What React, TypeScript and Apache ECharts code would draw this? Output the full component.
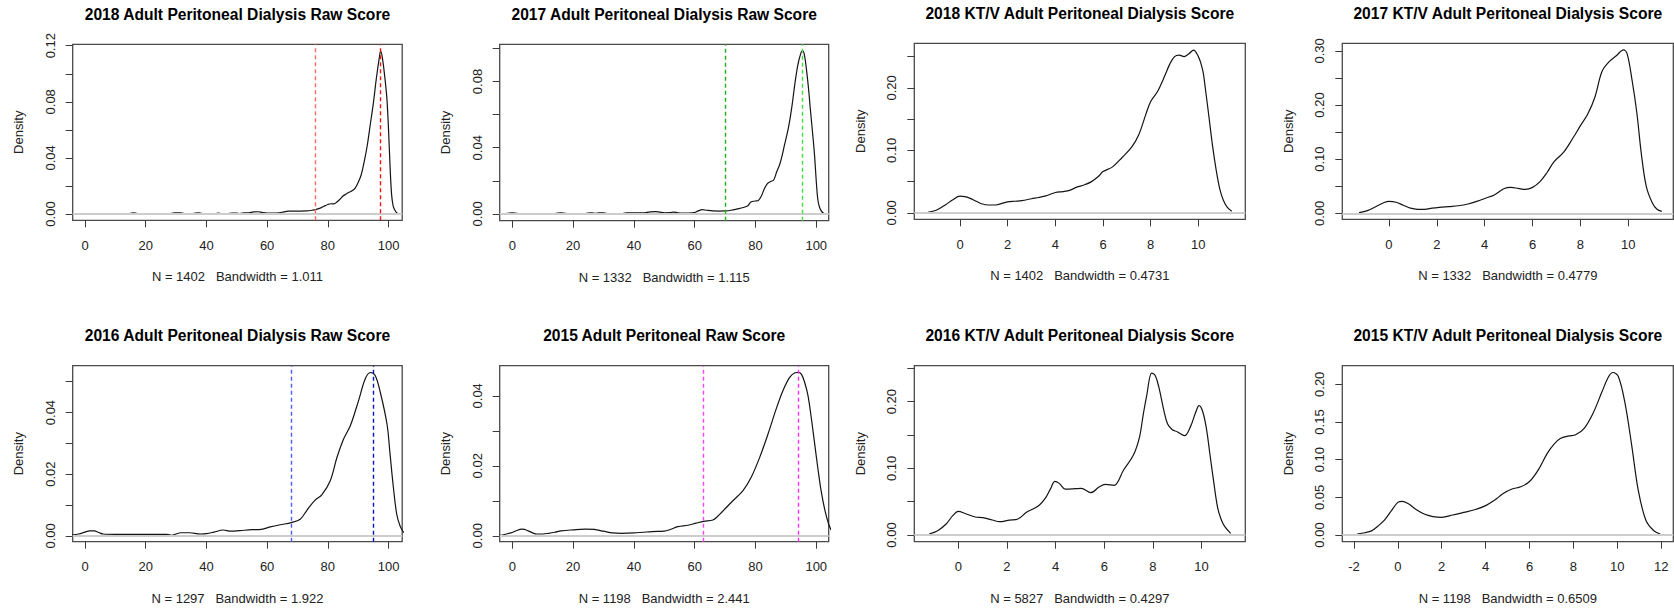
import { useEffect, useRef } from 'react';
import * as echarts from 'echarts';

const FONT = '"Liberation Sans", Arial, Helvetica, sans-serif';

const titles = [
  '2018 Adult Peritoneal Dialysis Raw Score',
  '2017 Adult Peritoneal Dialysis Raw Score',
  '2018 KT/V Adult Peritoneal Dialysis Score',
  '2017 KT/V Adult Peritoneal Dialysis Score',
  '2016 Adult Peritoneal Dialysis Raw Score',
  '2015 Adult Peritoneal Raw Score',
  '2016 KT/V Adult Peritoneal Dialysis Score',
  '2015 KT/V Adult Peritoneal Dialysis Score',
];

const subtitles = [
  'N = 1402   Bandwidth = 1.011',
  'N = 1332   Bandwidth = 1.115',
  'N = 1402   Bandwidth = 0.4731',
  'N = 1332   Bandwidth = 0.4779',
  'N = 1297   Bandwidth = 1.922',
  'N = 1198   Bandwidth = 2.441',
  'N = 5827   Bandwidth = 0.4297',
  'N = 1198   Bandwidth = 0.6509',
];

// ---- density curves (x, density) ----
const raw2018X = [12, 14, 15, 16, 17, 18, 20, 26, 28, 29.5, 31.5, 33, 34.5, 36, 37.5, 39, 42, 44, 45.5, 47, 48.5, 50, 51, 52.5, 54, 55.5, 57, 58.5, 60, 62, 64, 65.5, 67, 69, 71, 73, 75, 76, 77, 78, 79, 80, 81, 82, 83, 84, 85, 86, 87, 88, 89, 90, 91, 92, 93, 94, 95, 96, 97, 97.4, 98, 99, 99.5, 100, 100.5, 101, 101.5, 102, 102.5, 103, 103.5];
const raw2018Y = [0, 0, 0.0004, 0.0009, 0.0004, 0, 0, 0, 0.0003, 0.0008, 0.0008, 0.0002, 0, 0.0005, 0.0008, 0.0002, 0, 0.0006, 0, 0.0002, 0.0007, 0.0006, 0.0003, 0.0008, 0.0009, 0.0015, 0.0016, 0.001, 0.0007, 0.0007, 0.0009, 0.0015, 0.002, 0.0021, 0.0021, 0.0022, 0.0027, 0.0031, 0.0038, 0.0047, 0.0058, 0.0068, 0.0073, 0.0072, 0.0086, 0.0105, 0.0128, 0.0142, 0.0155, 0.0165, 0.0185, 0.0225, 0.028, 0.0375, 0.049, 0.064, 0.079, 0.097, 0.112, 0.1162, 0.111, 0.093, 0.081, 0.06, 0.034, 0.014, 0.006, 0.003, 0.0014, 0.0004, 0];

const raw2017X = [-3, -1.5, 0, 1.5, 3, 13, 14.5, 16, 17.5, 19, 23, 24.5, 26, 27.5, 28.5, 30, 31.5, 34, 36, 37.5, 40, 42, 43.5, 45, 47, 48.5, 50, 52, 53, 54.5, 56, 58, 60, 61, 62.5, 64, 66, 68, 70, 72, 74, 76, 77.5, 78.5, 80, 81, 82, 83, 84, 85, 86, 87, 88, 89, 89.6, 90, 91, 92, 93, 94, 95, 95.5, 96, 96.7, 97.5, 98.1, 99, 99.5, 100, 100.5, 101, 101.6, 102.2, 102.8];
const raw2017Y = [0, 0.0003, 0.0006, 0.0003, 0, 0, 0.0004, 0.0007, 0.0003, 0, 0, 0.0004, 0.0007, 0.0004, 0.0006, 0.0006, 0.0002, 0, 0.0002, 0.0006, 0.0006, 0.0006, 0.0007, 0.0011, 0.0014, 0.0011, 0.0007, 0.0008, 0.0011, 0.0007, 0.0005, 0.0005, 0.0008, 0.0017, 0.0026, 0.0022, 0.0018, 0.0017, 0.0018, 0.0022, 0.003, 0.0039, 0.005, 0.0072, 0.0078, 0.0082, 0.011, 0.0155, 0.0185, 0.0196, 0.0205, 0.0255, 0.03, 0.037, 0.042, 0.045, 0.0535, 0.065, 0.079, 0.0905, 0.0975, 0.0985, 0.097, 0.0886, 0.075, 0.0625, 0.045, 0.034, 0.02, 0.009, 0.0045, 0.002, 0.0007, 0];

const ktv2018X = [-1.35, -1.0, -0.6, -0.3, 0, 0.2, 0.4, 0.7, 0.9, 1.2, 1.5, 1.8, 2.0, 2.3, 2.6, 3.0, 3.3, 3.6, 4.0, 4.3, 4.6, 4.9, 5.2, 5.5, 5.8, 6.0, 6.4, 6.8, 7.2, 7.5, 7.8, 8.0, 8.3, 8.6, 8.8, 9.0, 9.2, 9.4, 9.6, 9.8, 10.0, 10.1, 10.2, 10.3, 10.45, 10.6, 10.75, 10.9, 11.05, 11.2, 11.4];
const ktv2018Y = [0.0008, 0.004, 0.013, 0.021, 0.0266, 0.026, 0.0235, 0.018, 0.0145, 0.0125, 0.0125, 0.0155, 0.0175, 0.0185, 0.0195, 0.0225, 0.0245, 0.027, 0.0325, 0.034, 0.036, 0.041, 0.0445, 0.0495, 0.058, 0.066, 0.0735, 0.0885, 0.105, 0.125, 0.158, 0.178, 0.195, 0.22, 0.238, 0.25, 0.2525, 0.25, 0.2545, 0.2605, 0.25, 0.24, 0.225, 0.197, 0.152, 0.106, 0.068, 0.038, 0.02, 0.0095, 0.0025];

const ktv2017X = [-1.25, -0.9, -0.5, -0.2, 0, 0.3, 0.6, 0.9, 1.2, 1.5, 1.8, 2.1, 2.5, 2.9, 3.3, 3.7, 4.0, 4.4, 4.8, 5.1, 5.4, 5.7, 6.0, 6.3, 6.6, 6.9, 7.3, 7.7, 8.0, 8.3, 8.6, 8.9, 9.2, 9.5, 9.8, 9.95, 10.15, 10.35, 10.55, 10.75, 11.0, 11.2, 11.4];
const ktv2017Y = [0.0012, 0.005, 0.0136, 0.02, 0.0222, 0.0205, 0.015, 0.0095, 0.0075, 0.0075, 0.0095, 0.011, 0.0125, 0.014, 0.0172, 0.0225, 0.0275, 0.034, 0.0455, 0.0478, 0.046, 0.0443, 0.048, 0.058, 0.075, 0.0955, 0.113, 0.14, 0.162, 0.183, 0.214, 0.262, 0.28, 0.291, 0.302, 0.295, 0.248, 0.188, 0.108, 0.05, 0.0197, 0.0075, 0.0035];

const raw2016X = [-5, -4, -2, 0, 1.5, 3, 4.5, 6, 10, 20, 27, 28.6, 30, 31.5, 34.5, 38, 40, 42.5, 45.5, 48, 51, 55, 58, 60, 61, 64.3, 68, 70.9, 73.1, 75.8, 78, 80.8, 83, 85.2, 87.4, 90.1, 92.3, 94, 95.6, 97.3, 99.5, 100.5, 101.6, 102.7, 103.8, 105];
const raw2016Y = [0.0002, 0.0003, 0.0006, 0.0012, 0.0016, 0.0016, 0.0011, 0.0006, 0.0005, 0.0005, 0.0005, 0.0002, 0.0006, 0.001, 0.001, 0.0006, 0.0007, 0.0012, 0.0019, 0.0015, 0.0017, 0.002, 0.0021, 0.0026, 0.0029, 0.0036, 0.0043, 0.0054, 0.0083, 0.0116, 0.0133, 0.0179, 0.0254, 0.0314, 0.0357, 0.0438, 0.0509, 0.053, 0.052, 0.0465, 0.0362, 0.0265, 0.0157, 0.007, 0.0032, 0.001];

const raw2015X = [-5, -4.2, -2, 0.2, 1.5, 3, 4, 5.2, 6.5, 8, 10, 12, 14, 16, 20, 24, 27, 30, 33, 36, 40, 43, 46, 50, 52, 54.5, 57.8, 60.5, 63, 66, 67.5, 69, 72, 75.9, 78.6, 81.4, 84.1, 86.8, 89, 91.2, 93, 94, 95.1, 96.2, 97.3, 98.4, 99.5, 100.5, 101.6, 102.8, 104.1, 105];
const raw2015Y = [0.0001, 0.0001, 0.0005, 0.001, 0.0015, 0.0019, 0.0018, 0.0014, 0.0009, 0.0005, 0.0005, 0.0007, 0.001, 0.0014, 0.0017, 0.0019, 0.0018, 0.0013, 0.0008, 0.0007, 0.0008, 0.001, 0.0012, 0.0013, 0.0018, 0.0026, 0.003, 0.0036, 0.0041, 0.0045, 0.0055, 0.0068, 0.0095, 0.0129, 0.0167, 0.0224, 0.029, 0.0362, 0.0414, 0.0452, 0.0466, 0.0467, 0.0462, 0.0438, 0.04, 0.0335, 0.0262, 0.0195, 0.0129, 0.0075, 0.0033, 0.0015];

const ktv2016X = [-1.2, -0.85, -0.5, -0.23, 0, 0.3, 0.7, 1.0, 1.4, 1.7, 2.1, 2.45, 2.8, 3.3, 3.6, 3.8, 3.97, 4.15, 4.4, 4.8, 5.05, 5.45, 5.8, 6.05, 6.4, 6.8, 7.2, 7.45, 7.6, 7.75, 7.95, 8.1, 8.25, 8.45, 8.6, 8.8, 9.0, 9.3, 9.55, 9.75, 9.9, 10.05, 10.2, 10.35, 10.5, 10.66, 10.8, 10.95, 11.2];
const ktv2016Y = [0.0015, 0.0065, 0.0165, 0.029, 0.0355, 0.032, 0.027, 0.026, 0.0225, 0.02, 0.0225, 0.024, 0.034, 0.044, 0.0565, 0.07, 0.0805, 0.0775, 0.069, 0.0695, 0.07, 0.0635, 0.0725, 0.076, 0.0745, 0.098, 0.12, 0.147, 0.18, 0.21, 0.243, 0.239, 0.221, 0.187, 0.167, 0.158, 0.155, 0.149, 0.163, 0.183, 0.194, 0.185, 0.16, 0.12, 0.08, 0.0415, 0.024, 0.013, 0.0025];

const ktv2015X = [-1.85, -1.5, -1.2, -0.9, -0.6, -0.3, 0, 0.2, 0.5, 0.8, 1.2, 1.6, 2.0, 2.5, 3.0, 3.5, 4.0, 4.4, 4.8, 5.2, 5.6, 6.0, 6.4, 6.8, 7.1, 7.4, 7.8, 8.1, 8.5, 8.9, 9.3, 9.6, 9.8, 10.05, 10.35, 10.65, 10.95, 11.3, 11.65, 11.95];
const ktv2015Y = [0.0013, 0.003, 0.0055, 0.012, 0.02, 0.032, 0.0433, 0.0446, 0.041, 0.0345, 0.0278, 0.0245, 0.0235, 0.0265, 0.03, 0.0335, 0.039, 0.046, 0.055, 0.061, 0.064, 0.071, 0.0865, 0.108, 0.12, 0.128, 0.1315, 0.133, 0.142, 0.162, 0.19, 0.21, 0.2157, 0.21, 0.175, 0.12, 0.06, 0.0195, 0.006, 0.0013];

// ---- reference lines (dashed verticals) ----
const raw2018Lines = [75.7, 97.3];
const raw2017Lines = [70.0, 95.3];
const raw2016Lines = [68.0, 95.0];
const raw2015Lines = [62.9, 94.0];
const raw2018LineColors = ['#ff6a6a', '#ff1010'];
const raw2017LineColors = ['#22aa22', '#44dd44'];
const raw2016LineColors = ['#4f5cff', '#1010cc'];
const raw2015LineColors = ['#ff44ff', '#ff30ff'];

// ---- tick values ----
const rawXTicks = [0, 20, 40, 60, 80, 100];
const ktvXTicks = [0, 2, 4, 6, 8, 10];
const ktv2015XTicks = [-2, 0, 2, 4, 6, 8, 10, 12];
const raw2018YTicks = [0, 0.02, 0.04, 0.06, 0.08, 0.1, 0.12];
const raw2018YLabels = [0, 0.04, 0.08, 0.12];
const raw2017YTicks = [0, 0.02, 0.04, 0.06, 0.08, 0.1];
const raw2017YLabels = [0, 0.04, 0.08];
const ktv2018YTicks = [0, 0.05, 0.1, 0.15, 0.2, 0.25];
const ktv2018YLabels = [0, 0.1, 0.2];
const ktv2017YTicks = [0, 0.05, 0.1, 0.15, 0.2, 0.25, 0.3];
const ktv2017YLabels = [0, 0.1, 0.2, 0.3];
const raw2016YTicks = [0, 0.01, 0.02, 0.03, 0.04, 0.05];
const raw2016YLabels = [0, 0.02, 0.04];
const raw2015YTicks = [0, 0.01, 0.02, 0.03, 0.04];
const raw2015YLabels = [0, 0.02, 0.04];
const ktv2016YTicks = [0, 0.05, 0.1, 0.15, 0.2, 0.25];
const ktv2016YLabels = [0, 0.1, 0.2];
const ktv2015YTicks = [0, 0.05, 0.1, 0.15, 0.2];
const ktv2015YLabels = [0, 0.05, 0.1, 0.15, 0.2];

const panels = [
  { xs: raw2018X, ys: raw2018Y, lines: raw2018Lines, lineColors: raw2018LineColors, xTicks: rawXTicks, yTicks: raw2018YTicks, yLabels: raw2018YLabels,
    box: [72.7, 44.3, 329.5, 176], xr: [-4.05, 104.5], yr: [-0.0045, 0.121] },
  { xs: raw2017X, ys: raw2017Y, lines: raw2017Lines, lineColors: raw2017LineColors, xTicks: rawXTicks, yTicks: raw2017YTicks, yLabels: raw2017YLabels,
    box: [499.7, 44.3, 329, 176.4], xr: [-4.15, 104.1], yr: [-0.0041, 0.1025] },
  { xs: ktv2018X, ys: ktv2018Y, lines: [], lineColors: [], xTicks: ktvXTicks, yTicks: ktv2018YTicks, yLabels: ktv2018YLabels,
    box: [914.3, 43.3, 331, 176], xr: [-1.92, 11.97], yr: [-0.0104, 0.2713] },
  { xs: ktv2017X, ys: ktv2017Y, lines: [], lineColors: [], xTicks: ktvXTicks, yTicks: ktv2017YTicks, yLabels: ktv2017YLabels,
    box: [1342.3, 43.3, 331, 176], xr: [-1.95, 11.88], yr: [-0.011, 0.314] },
  { xs: raw2016X, ys: raw2016Y, lines: raw2016Lines, lineColors: raw2016LineColors, xTicks: rawXTicks, yTicks: raw2016YTicks, yLabels: raw2016YLabels,
    box: [72.7, 365.7, 329.5, 176], xr: [-4.05, 104.5], yr: [-0.0019, 0.0552] },
  { xs: raw2015X, ys: raw2015Y, lines: raw2015Lines, lineColors: raw2015LineColors, xTicks: rawXTicks, yTicks: raw2015YTicks, yLabels: raw2015YLabels,
    box: [499.7, 365.7, 329, 176], xr: [-4.15, 104.1], yr: [-0.0017, 0.0486] },
  { xs: ktv2016X, ys: ktv2016Y, lines: [], lineColors: [], xTicks: ktvXTicks, yTicks: ktv2016YTicks, yLabels: ktv2016YLabels,
    box: [914.3, 365.7, 331, 176], xr: [-1.81, 11.8], yr: [-0.01, 0.254] },
  { xs: ktv2015X, ys: ktv2015Y, lines: [], lineColors: [], xTicks: ktv2015XTicks, yTicks: ktv2015YTicks, yLabels: ktv2015YLabels,
    box: [1342.3, 365.7, 331, 176], xr: [-2.53, 12.55], yr: [-0.0089, 0.2247] },
];

function buildOption() {
  const grid: any[] = [];
  const xAxis: any[] = [];
  const yAxis: any[] = [];
  const series: any[] = [];
  const title: any[] = [];

  panels.forEach((p, i) => {
    const [left, top, width, height] = p.box;
    grid.push({
      left, top, width, height,
      show: true,
      borderColor: '#4a4a4a',
      borderWidth: 1.3,
      backgroundColor: 'transparent',
      containLabel: false,
      outerBoundsMode: 'none',
    });
    title.push({
      text: titles[i],
      left: left + width / 2,
      top: top - 30,
      textAlign: 'center',
      textVerticalAlign: 'middle',
      padding: 0,
      textStyle: { fontFamily: FONT, fontSize: 15.6, fontWeight: 'bold', color: '#000' },
    });
    xAxis.push({
      type: 'value',
      gridIndex: i,
      min: p.xr[0],
      max: p.xr[1],
      position: 'bottom',
      axisLine: { show: false, onZero: false },
      splitLine: { show: false },
      axisTick: { show: true, inside: false, length: 7, customValues: p.xTicks, lineStyle: { color: '#3a3a3a', width: 1 } },
      axisLabel: { show: true, margin: 18.5, customValues: p.xTicks, fontFamily: FONT, fontSize: 13, color: '#222', formatter: (v: number) => String(v) },
      name: subtitles[i],
      nameLocation: 'middle',
      nameGap: 50,
      nameTextStyle: { fontFamily: FONT, fontSize: 13, color: '#222' },
    });
    yAxis.push({
      type: 'value',
      gridIndex: i,
      min: p.yr[0],
      max: p.yr[1],
      position: 'left',
      axisLine: { show: false, onZero: false },
      splitLine: { show: false },
      axisTick: { show: true, inside: false, length: 7, customValues: p.yTicks, lineStyle: { color: '#3a3a3a', width: 1 } },
      axisLabel: { show: true, rotate: 90, margin: 16, customValues: p.yLabels, fontFamily: FONT, fontSize: 13, color: '#222', formatter: (v: number) => v.toFixed(2) },
      name: 'Density',
      nameLocation: 'middle',
      nameRotate: 90,
      nameGap: 47.5,
      nameTextStyle: { fontFamily: FONT, fontSize: 13, color: '#222' },
    });
    const markData: any[] = [
      { yAxis: 0, lineStyle: { color: '#cdcdcd', width: 1.8, type: 'solid' } },
    ];
    p.lines.forEach((v: number, k: number) => {
      markData.push({ xAxis: v, lineStyle: { color: p.lineColors[k], width: 1.4, type: [4, 3] } });
    });
    series.push({
      type: 'line',
      xAxisIndex: i,
      yAxisIndex: i,
      data: p.xs.map((x: number, k: number) => [x, p.ys[k]]),
      showSymbol: false,
      symbol: 'none',
      smooth: 0.35,
      clip: true,
      silent: true,
      lineStyle: { color: '#141414', width: 1.2 },
      markLine: {
        silent: true,
        symbol: ['none', 'none'],
        label: { show: false },
        emphasis: { disabled: true },
        animation: false,
        data: markData,
      },
    });
  });

  return {
    animation: false,
    backgroundColor: '#ffffff',
    textStyle: { fontFamily: FONT },
    title,
    grid,
    xAxis,
    yAxis,
    series,
  };
}

export default function App() {
  const ref = useRef<HTMLDivElement>(null);
  useEffect(() => {
    document.body.style.margin = '0';
    if (!ref.current) return;
    const chart = echarts.init(ref.current, null, { renderer: 'svg' });
    chart.setOption(buildOption() as any);
    return () => chart.dispose();
  }, []);
  return <div ref={ref} style={{ width: 1674, height: 609, background: '#fff' }} />;
}
